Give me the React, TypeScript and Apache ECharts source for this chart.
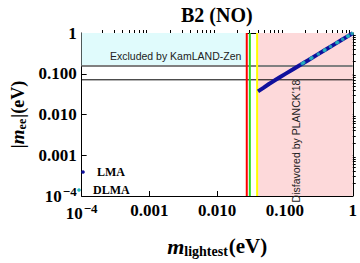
import React, { useEffect, useRef } from 'react';
import * as echarts from 'echarts';

const TITLE = 'B2 (NO)';
const TICK_LABELS = ['10^-4', '0.001', '0.010', '0.100', '1'];
const DECADES = [-4, -3, -2, -1];
const MINOR_MULTIPLIERS = [2, 3, 4, 5, 6, 7, 8, 9];

const LMA_X = [0.040, 0.048, 0.058, 0.070, 0.085, 0.10, 0.13, 0.17, 0.22, 0.30, 0.40, 0.55, 0.70, 0.85, 1.0];
const LMA_Y = [0.037, 0.045, 0.056, 0.068, 0.083, 0.098, 0.127, 0.166, 0.215, 0.294, 0.393, 0.54, 0.69, 0.84, 0.99];
const DLMA_X = [0.18, 0.19, 0.24, 0.25, 0.31, 0.38, 0.39, 0.47, 0.58, 0.60, 0.71, 0.84, 0.86, 0.98];
const DLMA_Y = [0.178, 0.190, 0.236, 0.248, 0.305, 0.374, 0.386, 0.465, 0.575, 0.592, 0.70, 0.83, 0.85, 0.97];

const KAMLAND_LIMIT = 0.156;
const FUTURE_LIMIT = 0.071;
const RED_LINE = 0.0273;
const GREEN_LINE = 0.0303;
const YELLOW_LINE = 0.0388;
const AXIS_MIN = 1e-4;
const AXIS_MAX = 1;

const SERIF = '"Liberation Serif", "Times New Roman", serif';
const SANS = '"Liberation Sans", Arial, sans-serif';

const MINOR_EXP: number[] = [];
DECADES.forEach((d) => MINOR_MULTIPLIERS.forEach((m) => MINOR_EXP.push(d + Math.log10(m))));

function tickFormatter(v: number): string {
  const e = Math.round(Math.log10(v));
  const lab = TICK_LABELS[e + 4];
  if (!lab) return '';
  if (lab.startsWith('10^')) {
    return '{b|10}{sup|' + lab.slice(3).replace('-', '\u2212') + '}';
  }
  return '{b|' + lab + '}';
}

const labelRich = {
  b: { fontFamily: SERIF, fontWeight: 'bold', fontSize: 17, color: '#000' },
  sup: { fontFamily: SERIF, fontWeight: 'bold', fontSize: 13, color: '#000', padding: [0, 0, 9, 1] },
};

function vLine(name: string, x: number, color: string, width: number, z: number) {
  return {
    name, type: 'line', symbol: 'none', silent: true, z,
    lineStyle: { color, width }, itemStyle: { color },
    data: [[x, AXIS_MIN], [x, AXIS_MAX]],
  };
}
function hLine(name: string, y: number, color: string, width: number, z: number) {
  return {
    name, type: 'line', symbol: 'none', silent: true, z,
    lineStyle: { color, width }, itemStyle: { color },
    data: [[AXIS_MIN, y], [AXIS_MAX, y]],
  };
}

export default function App() {
  const ref = useRef<HTMLDivElement>(null);
  useEffect(() => {
    if (!ref.current) return;
    const chart = echarts.init(ref.current, undefined, { renderer: 'svg' });
    const axisCommon = {
      type: 'log' as const,
      logBase: 10,
      min: AXIS_MIN,
      max: AXIS_MAX,
      axisLine: { show: true, onZero: false, lineStyle: { color: '#000', width: 1 } },
      axisTick: { show: true, inside: true, length: 5, lineStyle: { color: '#000' } },
      splitLine: { show: false },
    };
    const minorAxis = {
      type: 'value' as const,
      min: -4,
      max: 0,
      axisLine: { show: false },
      axisLabel: { show: false },
      splitLine: { show: false },
      axisTick: { show: true, inside: true, length: 3, customValues: MINOR_EXP, lineStyle: { color: '#000' } },
    };
    chart.setOption({
      animation: false,
      backgroundColor: '#fff',
      title: {
        text: TITLE,
        left: 176,
        top: 0,
        textStyle: { fontFamily: SERIF, fontWeight: 'bold', fontSize: 20, color: '#000' },
      },
      grid: { left: 73, right: 6, top: 33, bottom: 57, containLabel: false },
      xAxis: [
        {
          ...axisCommon,
          position: 'bottom',
          axisLabel: { formatter: tickFormatter, rich: labelRich, margin: 6 },
          name: '{i|m}{sub|lightest}{b|(eV)}',
          nameLocation: 'middle',
          nameGap: 38,
          nameTextStyle: {
            rich: {
              i: { fontFamily: SERIF, fontWeight: 'bold', fontStyle: 'italic', fontSize: 22, color: '#000' },
              sub: { fontFamily: SERIF, fontWeight: 'bold', fontSize: 14, color: '#000', padding: [10, 1, 0, 0] },
              b: { fontFamily: SERIF, fontWeight: 'bold', fontSize: 21, color: '#000' },
            },
          },
        },
        { ...axisCommon, position: 'top', axisLabel: { show: false } },
        { ...minorAxis, position: 'bottom' },
        { ...minorAxis, position: 'top' },
      ],
      yAxis: [
        {
          ...axisCommon,
          position: 'left',
          axisLabel: { formatter: tickFormatter, rich: labelRich, margin: 5 },
          name: '{b||}{i|m}{sub|ee}{b||(eV)}',
          nameLocation: 'middle',
          nameRotate: 90,
          nameGap: 52,
          nameTextStyle: {
            rich: {
              i: { fontFamily: SERIF, fontWeight: 'bold', fontStyle: 'italic', fontSize: 19, color: '#000' },
              sub: { fontFamily: SERIF, fontWeight: 'bold', fontSize: 12, color: '#000', padding: [8, 1, 0, 0] },
              b: { fontFamily: SERIF, fontWeight: 'bold', fontSize: 18, color: '#000' },
            },
          },
        },
        { ...axisCommon, position: 'right', axisLabel: { show: false } },
        { ...minorAxis, position: 'left' },
        { ...minorAxis, position: 'right' },
      ],
      series: [
        {
          name: 'regions',
          type: 'line',
          data: [],
          z: 1,
          silent: true,
          markArea: {
            silent: true,
            data: [
              [
                { xAxis: AXIS_MIN, yAxis: KAMLAND_LIMIT, itemStyle: { color: '#e0fbfc' } },
                { xAxis: RED_LINE, yAxis: AXIS_MAX },
              ],
              [
                { xAxis: YELLOW_LINE, yAxis: AXIS_MIN, itemStyle: { color: '#fdd9da' } },
                { xAxis: AXIS_MAX, yAxis: AXIS_MAX },
              ],
            ],
          },
        },
        hLine('KamLAND-Zen limit', KAMLAND_LIMIT, '#808080', 2, 2),
        hLine('future limit', FUTURE_LIMIT, '#000000', 1, 2),
        vLine('red bound', RED_LINE, '#ff0000', 2, 2),
        vLine('green bound', GREEN_LINE, '#22dd22', 2, 2),
        vLine('yellow bound', YELLOW_LINE, '#ffff00', 2, 2),
        {
          name: 'LMA',
          type: 'line',
          z: 3,
          symbol: 'none',
          color: '#10109c',
          lineStyle: { color: '#10109c', width: 4 },
          data: LMA_X.map((x, i) => [x, LMA_Y[i]]),
        },
        {
          name: 'DLMA',
          type: 'scatter',
          z: 4,
          symbolSize: 3.5,
          color: '#26bcc0',
          itemStyle: { color: '#26bcc0' },
          data: DLMA_X.map((x, i) => [x, DLMA_Y[i]]),
        },
      ],
      graphic: [
        {
          type: 'text',
          x: 110,
          y: 56,
          z: 10,
          style: {
            text: 'Excluded by KamLAND-Zen',
            font: '10.5px ' + SANS,
            fill: '#222',
            textAlign: 'left',
            textVerticalAlign: 'middle',
          },
        },
        {
          type: 'text',
          x: 296,
          y: 141,
          rotation: Math.PI / 2,
          z: 10,
          style: {
            text: "Disfavored by PLANCK'18",
            font: '10.5px ' + SANS,
            fill: '#222',
            textAlign: 'center',
            textVerticalAlign: 'middle',
          },
        },
        { type: 'circle', z: 10, shape: { cx: 83, cy: 172, r: 1.8 }, style: { fill: '#10109c' } },
        {
          type: 'text', z: 10, x: 97, y: 172,
          style: { text: 'LMA', font: 'bold 12px ' + SERIF, fill: '#000', textAlign: 'left', textVerticalAlign: 'middle' },
        },
        { type: 'circle', z: 10, shape: { cx: 79, cy: 190, r: 1.8 }, style: { fill: '#26bcc0' } },
        {
          type: 'text', z: 10, x: 93, y: 190,
          style: { text: 'DLMA', font: 'bold 12px ' + SERIF, fill: '#000', textAlign: 'left', textVerticalAlign: 'middle' },
        },
      ],
    });
    return () => chart.dispose();
  }, []);
  return <div ref={ref} style={{ width: 360, height: 263, position: 'absolute', left: 0, top: 0 }} />;
}
